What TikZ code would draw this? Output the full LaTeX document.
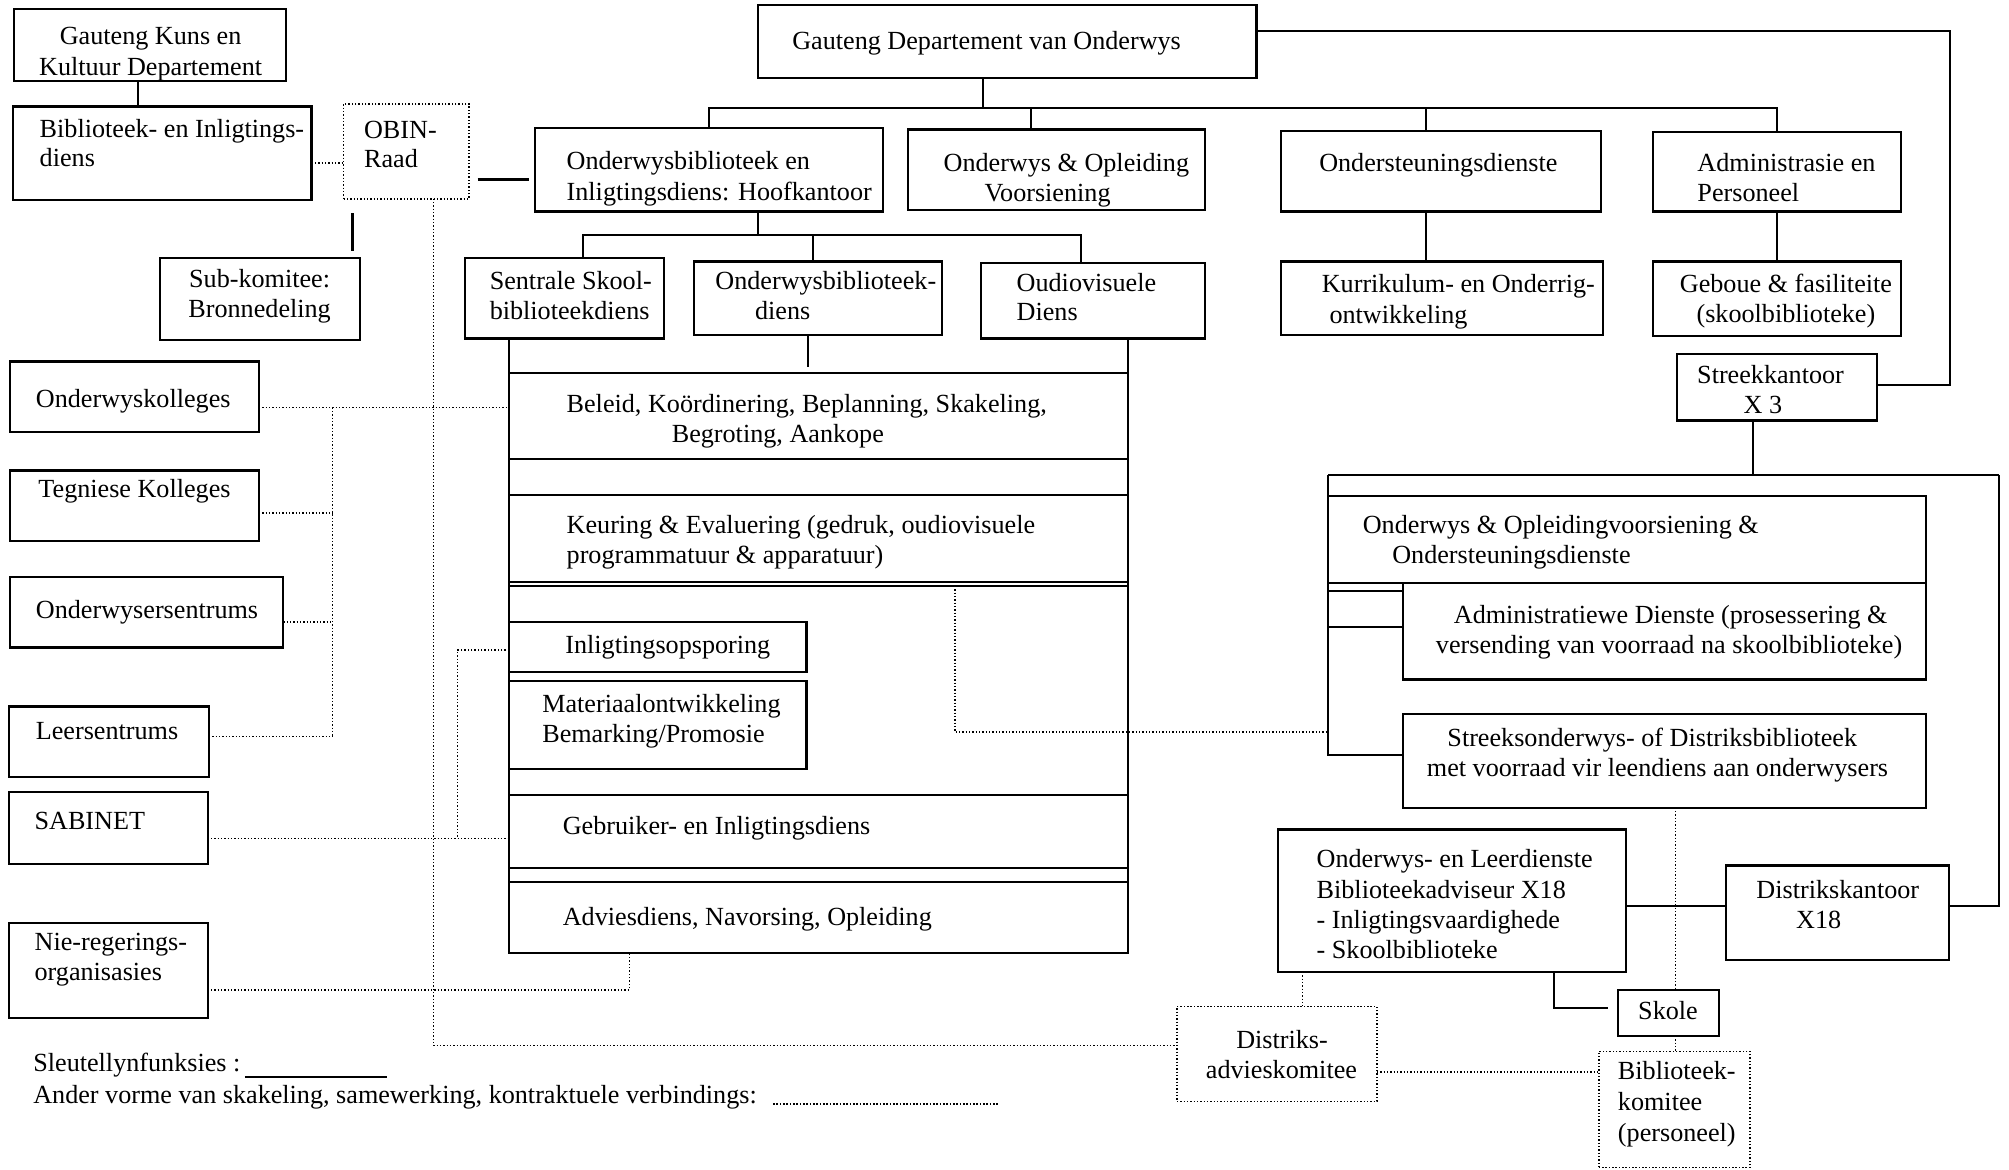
\documentclass[tikz,border=0pt]{standalone}
\usepackage{fontspec}
\setmainfont{Liberation Serif}
\usetikzlibrary{fit}
\tikzset{
 box/.style={draw, line width=0.85pt, inner sep=0pt, outer sep=0pt},
 dbox/.style={box, line width=0.6pt, dash pattern=on 0.55pt off 0.75pt},
 ln/.style={line width=0.85pt},
 dt/.style={line width=0.6pt, dash pattern=on 0.55pt off 0.75pt},
 txt/.style={inner sep=0pt, outer sep=0pt, font=\fontsize{10.2pt}{11.7pt}\selectfont},
}
\newcommand\bx[6]{\node[#1, fit={(#3,#4) (#5,#6)}] (#2) {};}
\newcommand\txtL[4]{\node[txt,anchor=base west] (#1) at (#2,#3) {#4};}
\newcommand\txtC[4]{\node[txt,anchor=base] (#1) at (#2,#3) {#4};}
\begin{document}
\begin{tikzpicture}[x=0.5pt,y=-0.5pt]
\path[fill=white,use as bounding box] (0,0) rectangle (1567,912);

% ---------- boxes
\bx{box}{kuns}{11}{7}{223}{63}
\bx{box}{bib}{10}{83}{243}{156}
\bx{dbox}{obin}{268}{81}{366}{155}
\bx{box}{sub}{125}{201}{281}{265}
\bx{box}{gdo}{591}{4}{980}{61}
\bx{box}{hoof}{417}{100}{689}{165}
\bx{box}{oov}{708}{101}{940}{164}
\bx{box}{ond}{999}{102}{1249}{165}
\bx{box}{adm}{1289}{103}{1483}{165}
\bx{box}{sent}{363}{201}{518}{264}
\bx{box}{obd}{541}{204}{735}{261}
\bx{box}{oud}{765}{205}{940}{264}
\bx{box}{kur}{999}{204}{1250}{261}
\bx{box}{geb}{1289}{204}{1483}{262}
\bx{box}{streek}{1308}{276}{1464}{328}
\bx{box}{beleid}{397}{291}{880}{358}
\bx{box}{keur}{397}{386}{880}{454}
\bx{box}{inlig}{397}{485}{629}{524}
\bx{box}{mat}{397}{531}{629}{600}
\bx{box}{gebr}{397}{620}{880}{677}
\bx{box}{advies}{397}{688}{880}{743}
\bx{box}{ok}{8}{282}{202}{337}
\bx{box}{tk}{8}{367}{202}{422}
\bx{box}{os}{8}{450}{221}{505}
\bx{box}{ls}{7}{551}{163}{606}
\bx{box}{sab}{7}{618}{162}{674}
\bx{box}{nro}{7}{720}{162}{794}
\bx{box}{ooo}{1036}{387}{1502}{455}
\bx{box}{admd}{1094}{455}{1502}{530}
\bx{box}{strk}{1094}{557}{1502}{630}
\bx{box}{ol}{997}{647}{1268}{758}
\bx{box}{dk}{1346}{675}{1520}{749}
\bx{box}{skole}{1262}{772}{1341}{808}
\bx{dbox}{da}{918}{785}{1074}{859}
\bx{dbox}{bk}{1247}{820}{1365}{910.5}

% ---------- helper coordinates
\coordinate (v107) at (107.5,0);
\coordinate (v275) at (275,0);
\coordinate (v338) at (338,0);
\coordinate (v259) at (259.5,0);
\coordinate (v357) at (357,0);
\coordinate (v455) at (455,0);
\coordinate (v491) at (491,0);
\coordinate (v591) at (591,0);
\coordinate (v630) at (630,0);
\coordinate (v634) at (634,0);
\coordinate (v745) at (745,0);
\coordinate (v767) at (767,0);
\coordinate (v804) at (804,0);
\coordinate (v843) at (843,0);
\coordinate (v1016) at (1016,0);
\coordinate (v1112) at (1112,0);
\coordinate (v1212) at (1212,0);
\coordinate (v1307) at (1307,0);
\coordinate (v1367) at (1367,0);
\coordinate (h84) at (0,84);
\coordinate (h127) at (0,127);
\coordinate (h140) at (0,140);
\coordinate (h184) at (0,183.5);
\coordinate (h318) at (0,318);
\coordinate (h400) at (0,400);
\coordinate (h457) at (0,457);
\coordinate (h461) at (0,461);
\coordinate (h485) at (0,485);
\coordinate (h489) at (0,489);
\coordinate (h507) at (0,507);
\coordinate (h571) at (0,571);
\coordinate (h574) at (0,574.5);
\coordinate (h589) at (0,589);
\coordinate (h654) at (0,654);
\coordinate (h706) at (0,706.5);
\coordinate (h772) at (0,772);
\coordinate (h787) at (0,786.5);
\coordinate (h815) at (0,815.5);
\coordinate (h836) at (0,836);
\coordinate (rc1) at (1521,24);
\coordinate (rc2) at (1521,300.5);
\coordinate (ftl) at (1036,370.5);
\coordinate (ftr) at (1559,370.5);
\coordinate (k1) at (191,840);
\coordinate (k2) at (302,840);
\coordinate (k3) at (603,861);
\coordinate (k4) at (779,861);

% ---------- solid connectors
\draw[ln] (kuns.south -| v107) -- (bib.north -| v107);
\draw[ln, shorten <=3.3pt, shorten >=2.1pt] (obin.east |- h140) -- (hoof.west |- h140);
\draw[ln, shorten <=5.7pt, shorten >=2.7pt] (obin.south -| v275) -- (sub.north -| v275);
\draw[ln] (gdo.south -| v767) -- (h84 -| v767);
\draw[ln] (hoof.north) -- (h84 -| hoof.north) -- (h84 -| adm.north) -- (adm.north);
\draw[ln] (h84 -| v804) -- (oov.north -| v804);
\draw[ln] (h84 -| v1112) -- (ond.north -| v1112);
\draw[ln] (ond.south -| v1112) -- (kur.north -| v1112);
\draw[ln] (adm.south) -- (geb.north);
\draw[ln] (gdo.east |- rc1) -- (rc1) -- (rc2) -- (streek.east |- rc2);
\draw[ln] (hoof.south -| v591) -- (h184 -| v591);
\draw[ln] (sent.north -| v455) -- (h184 -| v455) -- (h184 -| v843) -- (oud.north -| v843);
\draw[ln] (h184 -| v634) -- (obd.north -| v634);
\draw[ln] (sent.south -| beleid.west) -- (advies.south west);
\draw[ln] (oud.south -| beleid.east) -- (advies.south east);
\draw[ln, shorten >=2.5pt] (obd.south -| v630) -- (beleid.north -| v630);
\draw[ln] (keur.west |- h457) -- (keur.east |- h457);
\draw[ln] (streek.south -| v1367) -- (ftl -| v1367);
\draw[ln] (ftl) -- (ftr);
\draw[ln] (ftl) -- (ftl |- h589) -- (strk.west |- h589);
\draw[ln] (ftl |- h461) -- (admd.west |- h461);
\draw[ln] (ftl |- h489) -- (admd.west |- h489);
\draw[ln] (ftr) -- (ftr |- h706) -- (dk.east |- h706);
\draw[ln] (ol.east |- h706) -- (dk.west |- h706);
\draw[ln, shorten >=3.8pt] (ol.south -| v1212) -- (h787 -| v1212) -- (skole.west |- h787);
\draw[ln] (k1) -- (k2);

% ---------- dotted connectors
\draw[dt] (bib.east |- h127) -- (obin.west |- h127);
\draw[dt] (h457 -| v745) -- (h571 -| v745) -- (ftl |- h571);
\draw[dt] (strk.south -| v1307) -- (skole.north -| v1307);
\draw[dt] (skole.south -| v1307) -- (bk.north -| v1307);
\draw[dt] (ol.south -| v1016) -- (da.north -| v1016);
\draw[dt] (da.east |- h836) -- (bk.west |- h836);
\draw[dt] (obin.south -| v338) -- (h815 -| v338) -- (da.west |- h815);
\draw[dt] (ok.east |- h318) -- (beleid.west |- h318);
\draw[dt] (h318 -| v259) -- (h574 -| v259);
\draw[dt] (tk.east |- h400) -- (h400 -| v259);
\draw[dt] (os.east |- h485) -- (h485 -| v259);
\draw[dt] (ls.east |- h574) -- (h574 -| v259);
\draw[dt] (sab.east |- h654) -- (gebr.west |- h654);
\draw[dt] (inlig.west |- h507) -- (h507 -| v357) -- (h654 -| v357);
\draw[dt] (nro.east |- h772) -- (h772 -| v491) -- (advies.south -| v491);
\draw[dt] (k3) -- (k4);

% ---------- texts
\txtC{t1a}{117.5}{34.5}{Gauteng Kuns en}
\txtC{t1b}{117.5}{58.5}{Kultuur Departement}
\txtL{t2a}{31}{107}{Biblioteek- en Inligtings-}
\txtL{t2b}{31}{130}{diens}
\txtL{t3a}{284}{108}{OBIN-}
\txtL{t3b}{284}{131}{Raad}
\txtC{t4a}{202.5}{224}{Sub-komitee:}
\txtC{t4b}{202.5}{247.5}{Bronnedeling}
\txtL{t5}{618}{38.5}{Gauteng Departement van Onderwys}
\txtL{t6a}{442}{132.5}{Onderwysbiblioteek en}
\txtL{t6b}{442}{156}{Inligtingsdiens: Hoofkantoor}
\txtL{t7a}{736}{133.5}{Onderwys \& Opleiding}
\txtL{t7b}{768}{157}{Voorsiening}
\txtL{t8}{1029}{134}{Ondersteuningsdienste}
\txtL{t9a}{1324}{134}{Administrasie en}
\txtL{t9b}{1324}{157.5}{Personeel}
\txtL{t10a}{382}{226}{Sentrale Skool-}
\txtL{t10b}{382}{249.5}{biblioteekdiens}
\txtL{t11a}{558}{226}{Onderwysbiblioteek-}
\txtL{t11b}{589}{249.5}{diens}
\txtL{t12a}{793}{227}{Oudiovisuele}
\txtL{t12b}{793}{250}{Diens}
\txtL{t13a}{1031}{228.5}{Kurrikulum- en Onderrig-}
\txtL{t13b}{1037}{252}{ontwikkeling}
\txtC{t14a}{1393}{228}{Geboue \& fasiliteite}
\txtC{t14b}{1393}{251.5}{(skoolbiblioteke)}
\txtC{t15a}{1381}{299}{Streekkantoor}
\txtC{t15b}{1375}{322.5}{X 3}
\txtL{t16a}{442}{322}{Beleid, Koördinering, Beplanning, Skakeling,}
\txtL{t16b}{524}{345}{Begroting, Aankope}
\txtL{t17a}{442}{416}{Keuring \& Evaluering (gedruk, oudiovisuele}
\txtL{t17b}{442}{439.5}{programmatuur \& apparatuur)}
\txtL{t18}{441}{509.5}{Inligtingsopsporing}
\txtL{t19a}{423}{556}{Materiaalontwikkeling}
\txtL{t19b}{423}{579.5}{Bemarking/Promosie}
\txtL{t20}{439}{651}{Gebruiker- en Inligtingsdiens}
\txtL{t21}{439}{722}{Adviesdiens, Navorsing, Opleiding}
\txtL{t22}{28}{318}{Onderwyskolleges}
\txtL{t23}{30}{388}{Tegniese Kolleges}
\txtL{t24}{28}{482.5}{Onderwysersentrums}
\txtL{t25}{28}{577}{Leersentrums}
\txtL{t26}{27}{647}{SABINET}
\txtL{t27a}{27}{741}{Nie-regerings-}
\txtL{t27b}{27}{764.5}{organisasies}
\txtL{t28a}{1063}{416}{Onderwys \& Opleidingvoorsiening \&}
\txtL{t28b}{1086}{439.5}{Ondersteuningsdienste}
\txtL{t29a}{1134}{486.5}{Administratiewe Dienste (prosessering \&}
\txtL{t29b}{1120}{510}{versending van voorraad na skoolbiblioteke)}
\txtL{t30a}{1129}{582}{Streeksonderwys- of Distriksbiblioteek}
\txtL{t30b}{1113}{606}{met voorraad vir leendiens aan onderwysers}
\txtL{t31a}{1027}{677}{Onderwys- en Leerdienste}
\txtL{t31b}{1027}{700.5}{Biblioteekadviseur X18}
\txtL{t31c}{1027}{724}{- Inligtingsvaardighede}
\txtL{t31d}{1027}{747.5}{- Skoolbiblioteke}
\txtL{t32a}{1370}{701}{Distrikskantoor}
\txtL{t32b}{1401}{724.5}{X18}
\txtC{t33}{1301}{795}{Skole}
\txtC{t34a}{1000}{817.5}{Distriks-}
\txtC{t34b}{999.5}{841}{advieskomitee}
\txtL{t35a}{1262}{842}{Biblioteek-}
\txtL{t35b}{1262}{866}{komitee}
\txtL{t35c}{1262}{890}{(personeel)}
\txtL{t36}{26}{836}{Sleutellynfunksies :}
\txtL{t37}{26}{861}{Ander vorme van skakeling, samewerking, kontraktuele verbindings:}
\end{tikzpicture}
\end{document}
